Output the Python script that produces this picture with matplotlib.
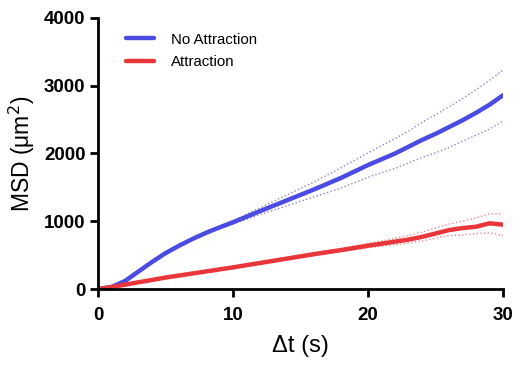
import matplotlib
matplotlib.use("Agg")
import matplotlib.pyplot as plt

plt.rcParams['font.family'] = ['Liberation Sans', 'DejaVu Sans']

# time lag (s)
dt = [0, 1, 2, 3, 4, 5, 6, 7, 8, 9, 10, 12, 14, 16, 18, 20, 22, 23, 24, 25, 26, 27, 28, 29, 30]

# No Attraction: mean and CI bounds
no_attr = [0, 30, 120, 260, 400, 530, 640, 740, 830, 910, 985, 1150, 1310, 1470, 1640,
           1830, 2000, 2100, 2200, 2290, 2390, 2490, 2600, 2720, 2860]
no_attr_hi = [0, 30, 120, 260, 400, 530, 645, 750, 845, 930, 1010, 1200, 1390, 1580, 1790,
              2010, 2220, 2330, 2460, 2570, 2690, 2810, 2940, 3080, 3230]
no_attr_lo = [0, 30, 120, 260, 400, 530, 635, 730, 815, 890, 960, 1100, 1230, 1360, 1490,
              1650, 1780, 1860, 1940, 2010, 2090, 2180, 2270, 2360, 2480]

# Attraction: mean and CI bounds
attr = [0, 30, 65, 100, 135, 170, 200, 230, 260, 290, 320, 385, 450, 515, 575,
        640, 700, 730, 770, 820, 870, 900, 920, 970, 950]
attr_hi = [0, 30, 65, 100, 135, 170, 200, 232, 263, 294, 325, 392, 462, 532, 600,
           670, 750, 790, 840, 900, 960, 1000, 1050, 1110, 1110]
attr_lo = [0, 30, 65, 100, 135, 170, 200, 228, 257, 286, 315, 378, 440, 500, 555,
           610, 655, 680, 710, 750, 790, 800, 820, 830, 790]

blue = '#4b4be3'
red = '#e8363b'

fig = plt.figure(figsize=(5.16, 3.65), dpi=100)
ax = fig.add_axes([0.19, 0.208, 0.785, 0.743])

ax.plot(dt, no_attr_hi, ':', color='#8c86c0', lw=1.0)
ax.plot(dt, no_attr_lo, ':', color='#8c86c0', lw=1.0)
ax.plot(dt, attr_hi, ':', color='#e88a8c', lw=1.0)
ax.plot(dt, attr_lo, ':', color='#e88a8c', lw=1.0)
ax.plot(dt, no_attr, color=blue, lw=3.2, label='No Attraction', solid_capstyle='round')
ax.plot(dt, attr, color=red, lw=3.2, label='Attraction', solid_capstyle='round')

ax.set_xlim(0, 30)
ax.set_ylim(0, 4000)
ax.set_xticks([0, 10, 20, 30])
ax.set_yticks([0, 1000, 2000, 3000, 4000])

for side in ['top', 'right']:
    ax.spines[side].set_visible(False)
for side in ['left', 'bottom']:
    ax.spines[side].set_linewidth(2)
ax.tick_params(width=2, length=6, direction='out', labelsize=13.5)
ax.tick_params(axis='x', pad=7)
ax.tick_params(axis='y', pad=3)
for lab in ax.get_xticklabels() + ax.get_yticklabels():
    lab.set_fontweight('bold')

ax.set_xlabel('\u0394t (s)', fontsize=17, labelpad=8)
ax.set_ylabel('MSD (\u03bcm$^2$)', fontsize=16.5, labelpad=5)

ax.legend(loc='upper left', bbox_to_anchor=(0.035, 0.995), frameon=False, fontsize=10.8,
          handlelength=1.9, handletextpad=1.1, labelspacing=0.55)

fig.savefig('out.png', dpi=100)
